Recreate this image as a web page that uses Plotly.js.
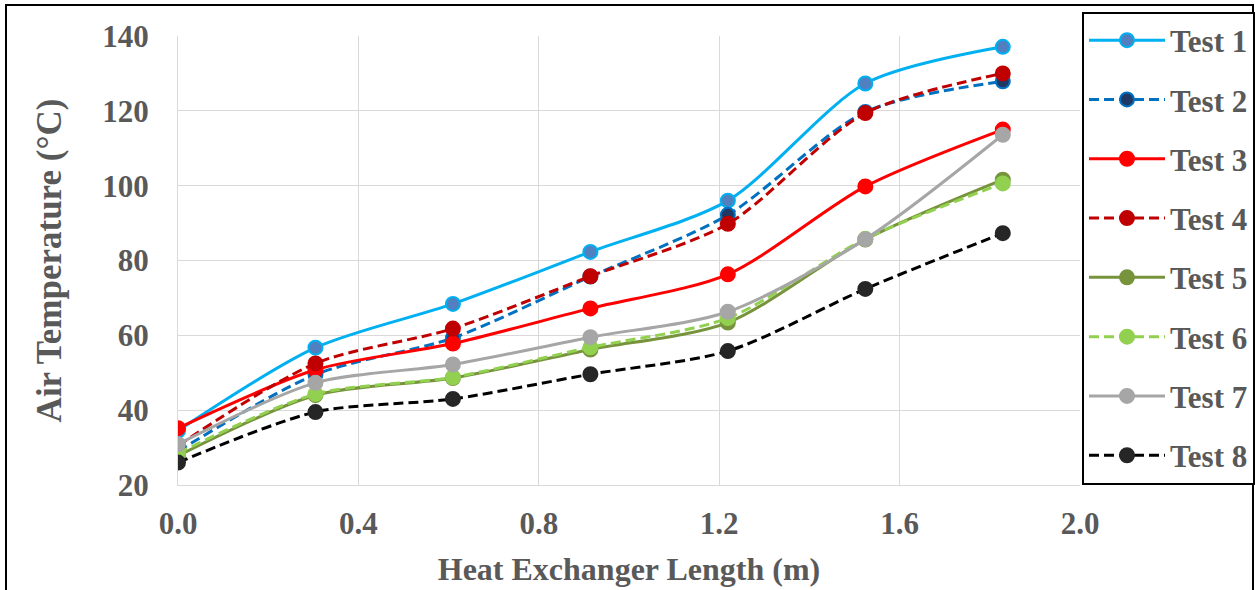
<!DOCTYPE html>
<html>
<head>
<meta charset="utf-8">
<script src="https://cdn.plot.ly/plotly-3.0.1.min.js"></script>
<style>html,body{margin:0;padding:0;background:#fff;}#chart{width:1255px;height:590px;}</style>
</head>
<body>
<div id="chart"></div>
<script>
// Heat exchanger length (m)
var lengthM = [0, 0.3048, 0.6096, 0.9144, 1.2192, 1.524, 1.8288];
// Air temperature (°C)
var test1 = [34.5, 56.7, 68.4, 82.3, 96.0, 127.3, 137.1];
var test2 = [29.0, 49.5, 59.3, 75.7, 92.2, 119.7, 127.9];
var test3 = [35.2, 50.8, 57.8, 67.2, 76.3, 99.8, 115.0];
var test4 = [30.5, 52.5, 61.8, 75.8, 89.8, 119.4, 130.0];
var test5 = [27.8, 44.0, 48.6, 56.2, 63.4, 85.6, 101.6];
var test6 = [28.5, 44.3, 48.8, 56.8, 64.6, 85.8, 100.6];
var test7 = [30.9, 47.3, 52.2, 59.5, 66.3, 85.7, 113.6];
var test8 = [26.0, 39.5, 43.0, 49.6, 55.8, 72.4, 87.3];
var seriesNames = ["Test 1","Test 2","Test 3","Test 4","Test 5","Test 6","Test 7","Test 8"];
var xTicks = [0, 0.4, 0.8, 1.2, 1.6, 2.0];
var xTickText = ["0.0","0.4","0.8","1.2","1.6","2.0"];
var yTicks = [20, 40, 60, 80, 100, 120, 140];

var allSeries = [test1,test2,test3,test4,test5,test6,test7,test8];
var styles = [
  {line:'#00B0F0', dash:'solid', mfill:'#5080C0', mline:'#00B0F0'},
  {line:'#0070C0', dash:'10px,5px', mfill:'#203864', mline:'#0070C0'},
  {line:'#FF0000', dash:'solid', mfill:'#FF0000', mline:'#FF0000'},
  {line:'#C00000', dash:'10px,5px', mfill:'#C00000', mline:'#C00000'},
  {line:'#77933C', dash:'solid', mfill:'#77933C', mline:'#77933C'},
  {line:'#92D050', dash:'10px,5px', mfill:'#92D050', mline:'#92D050'},
  {line:'#A6A6A6', dash:'solid', mfill:'#A6A6A6', mline:'#A6A6A6'},
  {line:'#000000', dash:'10px,5px', mfill:'#262626', mline:'#262626'}
];

var traces = allSeries.map(function(ys, i){
  var s = styles[i];
  return {
    x: lengthM, y: ys, name: seriesNames[i], type:'scatter', mode:'lines+markers',
    legendgroup: 'g'+i,
    line: {color: s.line, width: 3, dash: s.dash, shape:'spline', smoothing: 0.8},
    marker: {size: 14, color: s.mfill, line: {color: s.mline, width: 2}}
  };
});

var fontFam = '"Liberation Serif", "Times New Roman", serif';
var gray = '#595959';
var L = 178, R = 1080, T = 36, B = 485;
function px(x){ return (x - L) / (R - L); }
function py(y){ return (B - y) / (B - T); }

var layout = {
  width: 1255, height: 590, autosize: false,
  margin: {l: L, r: 1255 - R, t: T, b: 590 - B, pad: 0, autoexpand: false},
  paper_bgcolor: '#fff', plot_bgcolor: '#fff',
  font: {family: fontFam, color: gray, size: 30, weight: 'bold'},
  showlegend: true,
  xaxis: {
    range: [0, 2], tickvals: xTicks, ticktext: xTickText,
    showgrid: true, gridcolor: '#D9D9D9', gridwidth: 1,
    showline: true, linecolor: '#D9D9D9', linewidth: 1,
    zeroline: false, ticks: '', ticklabelstandoff: 11,
    tickfont: {family: fontFam, size: 31, color: gray, weight: 'bold'},
    title: {text: 'Heat Exchanger Length (m)', standoff: 17,
            font: {family: fontFam, size: 32, color: gray, weight: 'bold'}}
  },
  yaxis: {
    range: [20, 140], tickvals: yTicks,
    showgrid: true, gridcolor: '#D9D9D9', gridwidth: 1,
    showline: true, linecolor: '#D9D9D9', linewidth: 1,
    zeroline: false, ticks: '', ticklabelstandoff: 22,
    tickfont: {family: fontFam, size: 31, color: gray, weight: 'bold'},
    title: {text: 'Air Temperature (°C)', standoff: 30,
            font: {family: fontFam, size: 35, color: gray, weight: 'bold'}}
  },
  legend: {
    x: px(1082), xanchor: 'left', y: py(11.5), yanchor: 'top',
    bordercolor: '#000', borderwidth: 2, bgcolor: '#fff',
    font: {family: fontFam, size: 31, color: gray, weight: 'bold'},
    traceorder: 'grouped', tracegroupgap: 16, itemwidth: 76, maxheight: 600
  },
  shapes: [{
    type: 'rect', xref: 'paper', yref: 'paper',
    x0: px(6), x1: px(1253), y0: py(640), y1: py(5),
    line: {color: '#000', width: 2}, fillcolor: 'rgba(0,0,0,0)', layer: 'below'
  }]
};

Plotly.newPlot('chart', traces, layout, {displayModeBar: false, staticPlot: true});
</script>
</body>
</html>
